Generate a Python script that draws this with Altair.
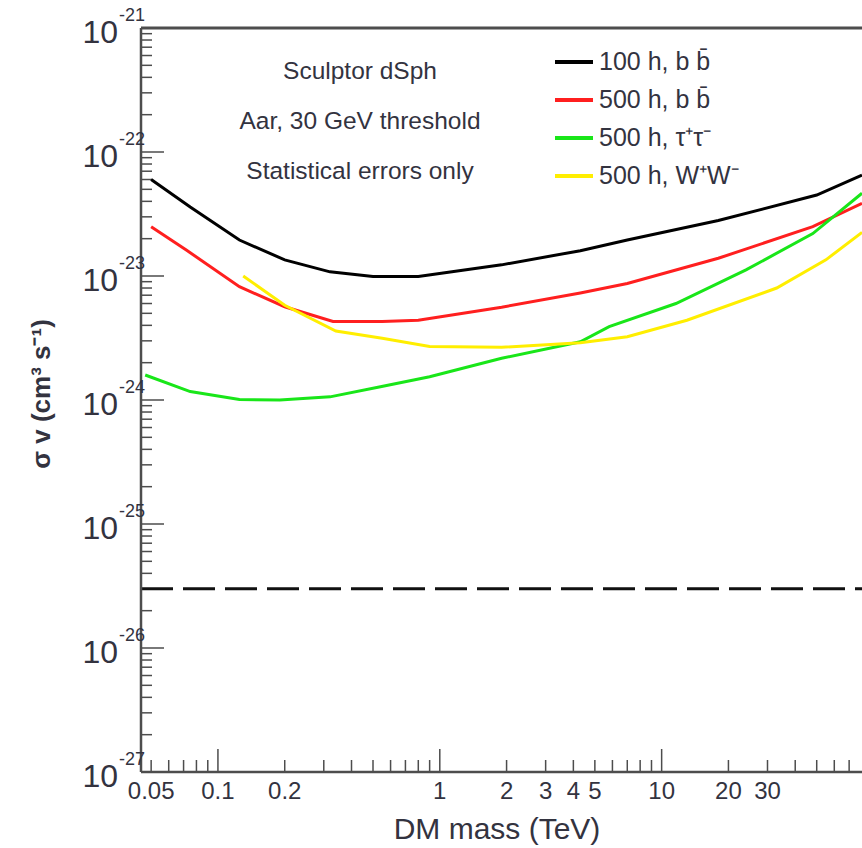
import altair as alt
import pandas as pd

# Dark-matter annihilation cross-section limits vs. mass (log-log)
mass_black = [0.05, 0.075, 0.125, 0.2, 0.32, 0.5, 0.8, 1.9, 4.3, 7, 18, 50, 80]
sv_black = [6.0e-23, 3.6e-23, 1.95e-23, 1.35e-23, 1.08e-23, 9.9e-24, 9.9e-24,
            1.23e-23, 1.6e-23, 1.95e-23, 2.8e-23, 4.5e-23, 6.5e-23]

mass_red = [0.05, 0.072, 0.125, 0.2, 0.33, 0.55, 0.8, 1.9, 4.3, 7, 18, 48, 80]
sv_red = [2.5e-23, 1.62e-23, 8.2e-24, 5.65e-24, 4.3e-24, 4.3e-24, 4.4e-24,
          5.6e-24, 7.3e-24, 8.7e-24, 1.39e-23, 2.5e-23, 3.85e-23]

mass_green = [0.047, 0.075, 0.125, 0.19, 0.32, 0.54, 0.9, 1.9, 4.3, 5.8, 11.6, 24, 48, 80]
sv_green = [1.59e-24, 1.17e-24, 1.01e-24, 1.0e-24, 1.06e-24, 1.28e-24, 1.54e-24,
            2.17e-24, 2.95e-24, 3.9e-24, 6.0e-24, 1.12e-23, 2.2e-23, 4.65e-23]

mass_yellow = [0.13, 0.2, 0.34, 0.55, 0.9, 1.9, 4.3, 7, 13, 33, 55, 80]
sv_yellow = [1.0e-23, 5.8e-24, 3.6e-24, 3.15e-24, 2.7e-24, 2.66e-24, 2.9e-24,
             3.24e-24, 4.4e-24, 8.0e-24, 1.35e-23, 2.25e-23]

series_names = ["100 h, b b\u0304", "500 h, b b\u0304", "500 h, \u03c4\u207a\u03c4\u207b", "500 h, W\u207aW\u207b"]
series_colors = ["#000000", "#ff1f1f", "#19e619", "#ffee00"]

relic_sv = 3e-26  # thermal relic cross-section

x_domain = [0.045, 80]
y_domain = [1e-27, 1e-21]

x_major_ticks = [0.1, 1, 10]
x_minor_ticks = [0.05, 0.06, 0.07, 0.08, 0.09,
                 0.2, 0.3, 0.4, 0.5, 0.6, 0.7, 0.8, 0.9,
                 2, 3, 4, 5, 6, 7, 8, 9,
                 20, 30, 40, 50, 60, 70]
x_tick_labels = [0.05, 0.1, 0.2, 1, 2, 3, 4, 5, 10, 20, 30]
x_tick_texts = ["0.05", "0.1", "0.2", "1", "2", "3", "4", "5", "10", "20", "30"]
y_decades = [-27, -26, -25, -24, -23, -22, -21]

notes = ["Sculptor dSph", "Aar, 30 GeV threshold", "Statistical errors only"]

W, H = 721, 744
FONT = "Liberation Sans, Arial, sans-serif"
TXT = "#33333f"
AXC = "#4d4d4d"

xs = alt.Scale(type="log", domain=x_domain, nice=False)
ys = alt.Scale(type="log", domain=y_domain, nice=False)


def X(field):
    return alt.X(field, type="quantitative", scale=xs, axis=None)


def Y(field):
    return alt.Y(field, type="quantitative", scale=ys, axis=None)


frames = []
for name, m, s in zip(series_names,
                      [mass_black, mass_red, mass_green, mass_yellow],
                      [sv_black, sv_red, sv_green, sv_yellow]):
    frames.append(pd.DataFrame({"mass": m, "sv": s, "series": name}))
curves_df = pd.concat(frames, ignore_index=True)

curves = alt.Chart(curves_df).mark_line(strokeWidth=3, clip=True).encode(
    x=X("mass"),
    y=Y("sv"),
    color=alt.Color(
        "series:N",
        scale=alt.Scale(domain=series_names, range=series_colors),
        legend=alt.Legend(
            orient="none", legendX=412, legendY=13, title=None,
            symbolType="stroke", symbolStrokeWidth=4, symbolSize=1444,
            labelFontSize=25, labelFont=FONT, labelColor=TXT,
            labelOffset=4, rowPadding=4, labelLimit=300,
        ),
    ),
)

relic = alt.Chart(pd.DataFrame({"mass": x_domain, "sv": [relic_sv, relic_sv]})).mark_line(
    strokeWidth=3, strokeDash=[32, 10], color="#111111", clip=True
).encode(x=X("mass"), y=Y("sv"))

# inward ticks
xmaj = alt.Chart(pd.DataFrame({"mass": x_major_ticks})).mark_rule(color=AXC, strokeWidth=1.5).encode(
    x=X("mass"), y=alt.value(H), y2=alt.value(H - 23))
xmin = alt.Chart(pd.DataFrame({"mass": x_minor_ticks})).mark_rule(color=AXC, strokeWidth=1.5).encode(
    x=X("mass"), y=alt.value(H), y2=alt.value(H - 12))

y_major_vals = [10.0 ** e for e in y_decades]
y_minor_vals = [k * 10.0 ** e for e in y_decades[:-1] for k in range(2, 10)]
ymaj = alt.Chart(pd.DataFrame({"sv": y_major_vals})).mark_rule(color=AXC, strokeWidth=1.5).encode(
    y=Y("sv"), x=alt.value(0), x2=alt.value(23))
ymin = alt.Chart(pd.DataFrame({"sv": y_minor_vals})).mark_rule(color=AXC, strokeWidth=1.5).encode(
    y=Y("sv"), x=alt.value(0), x2=alt.value(11))

one = pd.DataFrame({"k": [0]})
left_line = alt.Chart(one).mark_rule(color=AXC, strokeWidth=2.5).encode(
    x=alt.value(0), y=alt.value(0), y2=alt.value(H))
bottom_line = alt.Chart(one).mark_rule(color=AXC, strokeWidth=2.5).encode(
    y=alt.value(H), x=alt.value(0), x2=alt.value(W))
top_line = alt.Chart(one).mark_rule(color=AXC, strokeWidth=3).encode(
    y=alt.value(0), x=alt.value(0), x2=alt.value(W))

# tick labels
xlab = alt.Chart(pd.DataFrame({"mass": x_tick_labels, "txt": x_tick_texts})).mark_text(
    font=FONT, fontSize=24, color=TXT, align="center", baseline="alphabetic"
).encode(x=X("mass"), y=alt.value(H + 27), text="txt:N")

ylab_df = pd.DataFrame({"sv": y_major_vals, "exp": ["-%d" % (-e) for e in y_decades]})
ylab_base = alt.Chart(ylab_df).mark_text(
    font=FONT, fontSize=32, color=TXT, align="right", baseline="middle", dy=5, text="10"
).encode(y=Y("sv"), x=alt.value(-23))
ylab_exp = alt.Chart(ylab_df).mark_text(
    font=FONT, fontSize=18, color=TXT, align="left", baseline="middle", dy=-12
).encode(y=Y("sv"), x=alt.value(-22), text="exp:N")

# axis titles and notes
xtitle = alt.Chart(one).mark_text(
    font=FONT, fontSize=30, color=TXT, align="center", baseline="alphabetic",
    text="DM mass (TeV)"
).encode(x=alt.value(356), y=alt.value(H + 67))
ytitle = alt.Chart(one).mark_text(
    font=FONT, fontSize=26, fontWeight="bold", color=TXT, align="center",
    baseline="middle", angle=270, text="\u03c3 v (cm\u00b3 s\u207b\u00b9)"
).encode(x=alt.value(-99), y=alt.value(366))

note_layers = []
for i, line in enumerate(notes):
    note_layers.append(
        alt.Chart(one).mark_text(
            font=FONT, fontSize=24.5, color=TXT, align="center", baseline="middle", text=line
        ).encode(x=alt.value(219), y=alt.value(44 + 50 * i))
    )

chart = alt.layer(
    ymin, ymaj, xmin, xmaj, relic, curves,
    left_line, bottom_line, top_line,
    xlab, ylab_base, ylab_exp, xtitle, ytitle, *note_layers,
).properties(
    width=W, height=H,
    autosize=alt.AutoSizeParams(type="none"),
    padding={"left": 141, "top": 28, "right": 0, "bottom": 76},
    background="white",
).configure_view(stroke=None)

chart.save("out.html", embed_options={"renderer": "svg", "actions": False})
